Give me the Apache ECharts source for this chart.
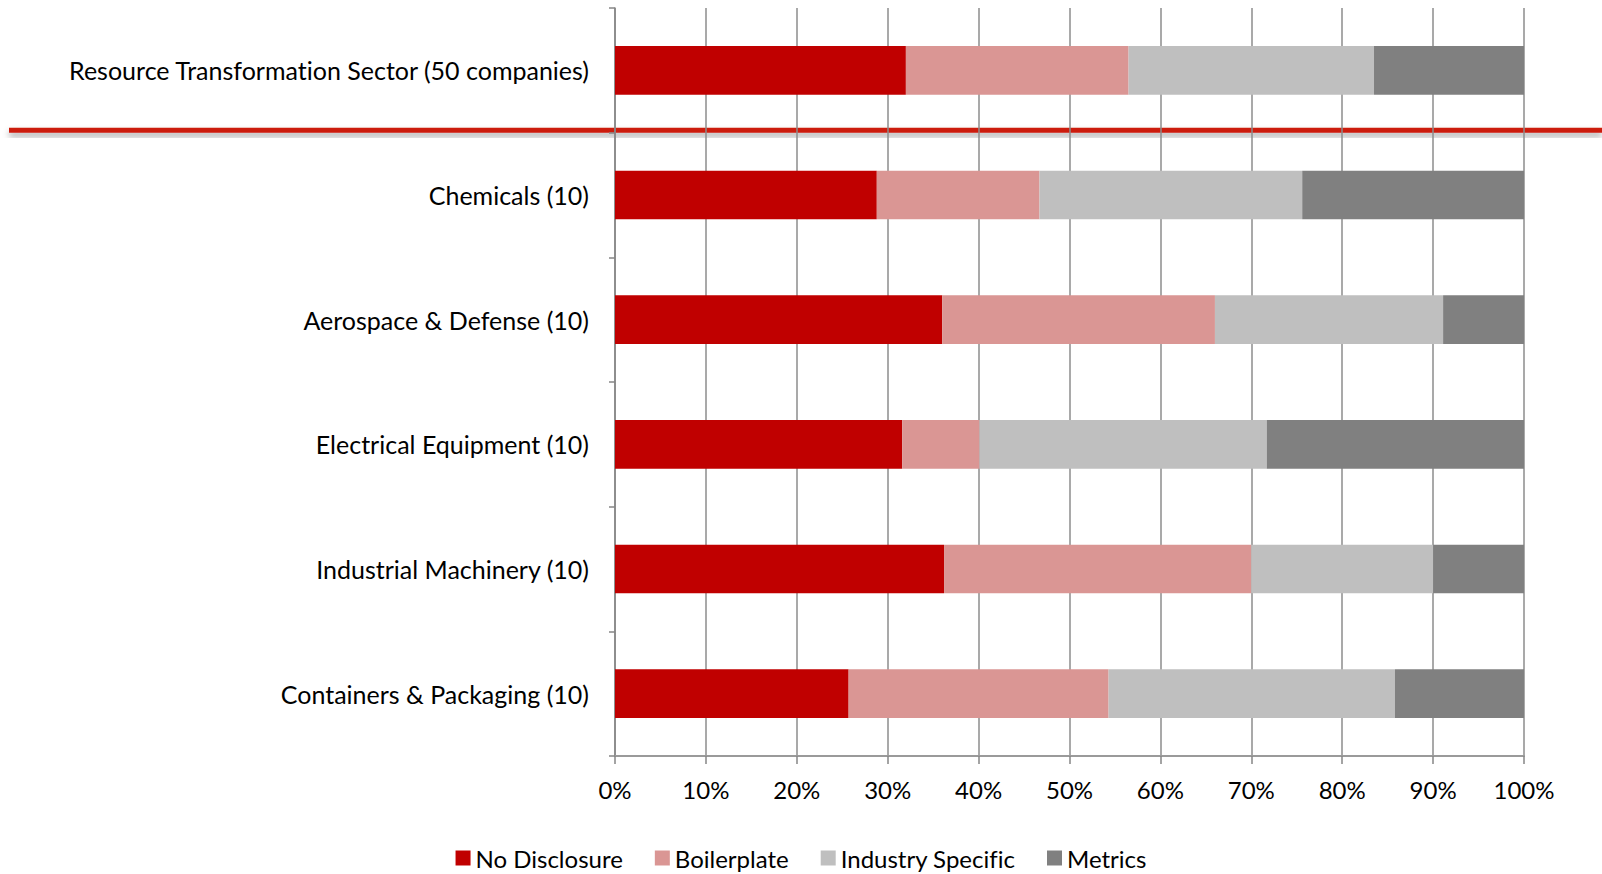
<!DOCTYPE html>
<html>
<head>
<meta charset="utf-8">
<script src="https://cdn.jsdelivr.net/npm/echarts@6/dist/echarts.min.js"></script>
<style>
  html, body { margin: 0; padding: 0; background: #ffffff; }
  #chart { width: 1602px; height: 874px; }
  #chart text { font-variant-ligatures: none; }
</style>
</head>
<body>
<div id="chart"></div>
<script>
// Disclosure quality by industry (share of companies, %)
const categories = [
  'Resource Transformation Sector (50 companies)',
  'Chemicals (10)',
  'Aerospace & Defense (10)',
  'Electrical Equipment (10)',
  'Industrial Machinery (10)',
  'Containers & Packaging (10)'
];
const noDisclosure     = [32.0, 28.8, 36.0, 31.6, 36.2, 25.7];
const boilerplate      = [24.5, 17.9, 30.0,  8.5, 33.8, 28.6];
const industrySpecific = [27.0, 28.9, 25.1, 31.6, 20.0, 31.5];
const metrics          = [16.5, 24.4,  8.9, 28.3, 10.0, 14.2];

const seriesNames  = ['No Disclosure', 'Boilerplate', 'Industry Specific', 'Metrics'];
const seriesColors = ['#C00000', '#DA9694', '#BFBFBF', '#808080'];
const seriesData   = [noDisclosure, boilerplate, industrySpecific, metrics];

const FONT = 'Lato';
const chart = echarts.init(document.getElementById('chart'), null, { renderer: 'svg' });

chart.setOption({
  backgroundColor: '#ffffff',
  animation: false,
  textStyle: { fontFamily: FONT, color: '#000000' },
  grid: { left: 615, right: 78, top: 8, bottom: 118, containLabel: false },
  legend: {
    top: 841,
    left: 'center',
    itemWidth: 15,
    itemHeight: 15,
    itemGap: 32,
    icon: 'rect',
    textStyle: { fontFamily: FONT, fontSize: 24, color: '#000000' },
    data: seriesNames
  },
  xAxis: {
    type: 'value',
    min: 0,
    max: 100,
    interval: 10,
    axisLine: { show: true, lineStyle: { color: '#9a9a9a', width: 2 } },
    axisTick: { show: true, length: 8, lineStyle: { color: '#868686', width: 1.5 } },
    axisLabel: { formatter: '{value}%', fontFamily: FONT, fontSize: 24, color: '#000000', margin: 21 },
    splitLine: { show: true, lineStyle: { color: '#8c8c8c', width: 1.5 } }
  },
  yAxis: {
    type: 'category',
    inverse: true,
    data: categories,
    axisLine: { show: true, lineStyle: { color: '#868686', width: 1.5 } },
    axisTick: { show: true, length: 6, alignWithLabel: false, lineStyle: { color: '#868686', width: 1.5 } },
    axisLabel: { fontFamily: FONT, fontSize: 25, color: '#000000', margin: 26, padding: [0, 0, 4, 0] },
    splitLine: { show: false }
  },
  series: seriesNames.map((name, i) => ({
    name: name,
    type: 'bar',
    stack: 'total',
    barCategoryGap: '61%',
    itemStyle: { color: seriesColors[i] },
    emphasis: { disabled: true },
    data: seriesData[i]
  }))
});

// Red divider between the sector total and the individual industries
const y0 = chart.convertToPixel({ yAxisIndex: 0 }, categories[0]);
const y1 = chart.convertToPixel({ yAxisIndex: 0 }, categories[1]);
const yDiv = (y0 + y1) / 2 - 2.5;
chart.setOption({
  graphic: [{
    type: 'rect',
    z: -1,
    shape: { x: 9, y: yDiv - 2.5, width: 1602 - 9, height: 5 },
    style: {
      fill: '#CC1A0C',
      shadowBlur: 6,
      shadowOffsetY: 4,
      shadowColor: 'rgba(0,0,0,0.35)'
    }
  }]
});
</script>
</body>
</html>
